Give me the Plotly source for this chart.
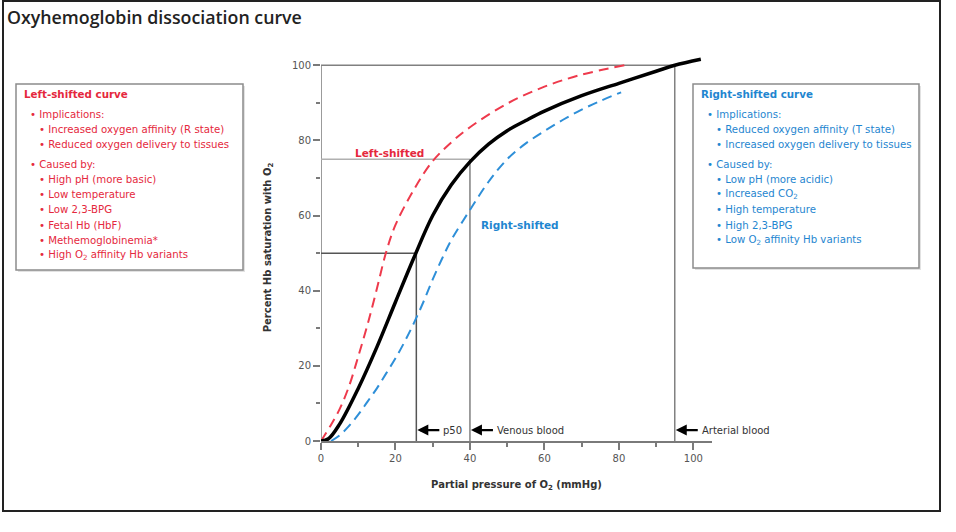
import plotly.graph_objects as go

# --- Kurven ---
NORMAL_X = [0, 2, 5, 10, 15, 20, 25, 30, 35, 40, 45, 50, 55, 60, 70, 80, 90, 95, 102]
NORMAL_Y = [0, 0.6, 4.5, 14, 25, 37, 48.9, 60, 68.2, 74.3, 79, 82.6, 85.3, 87.8,
            91.9, 95.2, 98.4, 100, 101.6]

LEFT_X = [0, 2.5, 5, 7.5, 10, 12.5, 15, 17.5, 20, 25, 30, 35, 40, 50, 60, 70, 81.5]
LEFT_Y = [0, 4, 8.5, 14.5, 22.5, 31, 40.5, 50.3, 57.5, 67, 74.5, 79.5, 83.5, 89.8,
          94.3, 97.5, 100]

RIGHT_X = [2.7, 5, 7.5, 10, 12.5, 15, 17.5, 20, 22.5, 25, 27.5, 30, 32.5, 35, 40,
           45, 50, 55, 60, 65, 70, 75, 80.6]
RIGHT_Y = [0, 1.5, 4, 7, 10.5, 14, 18, 22, 26.5, 31.5, 37, 43, 48.5, 53.5, 61.5,
           69, 75, 79.2, 82.5, 85.5, 88.2, 90.5, 92.8]

# Referenzpunkte
P50_X, P50_Y = 25.6, 50
VENOUS_X, VENOUS_Y = 40, 75
ARTERIAL_X, ARTERIAL_Y = 95, 100

X_TICKS = [0, 20, 40, 60, 80, 100]
Y_TICKS = [0, 20, 40, 60, 80, 100]

LEFT_TITLE = 'Left-shifted curve'
LEFT_IMPLICATIONS = ['Increased oxygen affinity (R state)',
                     'Reduced oxygen delivery to tissues']
LEFT_CAUSES = ['High pH (more basic)', 'Low temperature', 'Low 2,3-BPG',
               'Fetal Hb (HbF)', 'Methemoglobinemia*',
               'High O<sub>2</sub> affinity Hb variants']

RIGHT_TITLE = 'Right-shifted curve'
RIGHT_IMPLICATIONS = ['Reduced oxygen affinity (T state)',
                      'Increased oxygen delivery to tissues']
RIGHT_CAUSES = ['Low pH (more acidic)', 'Increased CO<sub>2</sub>',
                'High temperature', 'High 2,3-BPG',
                'Low O<sub>2</sub> affinity Hb variants']

RED = '#EE3A4C'
RED_TXT = '#E5283D'
BLUE = '#2E8FD8'
BLUE_TXT = '#1F86D0'
REF_GRAY = '#808080'
AXIS_GRAY = '#7a7a7a'
FONT = 'DejaVu Sans'

W, H = 956, 532
M_L, M_R, M_T, M_B = 321, 244, 54, 91
PW, PH = W - M_L - M_R, H - M_T - M_B


def px(x):
    return (x - M_L) / PW


def py(y):
    return (H - M_B - y) / PH


fig = go.Figure()

# Kurven
fig.add_trace(go.Scatter(x=LEFT_X, y=LEFT_Y, mode='lines', line_shape='spline',
                         line=dict(color=RED, width=2, dash='10px,6px')))
fig.add_trace(go.Scatter(x=RIGHT_X, y=RIGHT_Y, mode='lines', line_shape='spline',
                         line=dict(color=BLUE, width=2, dash='10px,6px')))
fig.add_trace(go.Scatter(x=NORMAL_X, y=NORMAL_Y, mode='lines', line_shape='spline',
                         line=dict(color='black', width=3.5)))

shapes = []
annotations = []


# Hilfslinien
def ref_line(x0, y0, x1, y1, color=REF_GRAY, width=1.5):
    shapes.append(dict(type='line', xref='x', yref='y', x0=x0, y0=y0, x1=x1, y1=y1,
                       line=dict(color=color, width=width), layer='below'))


ref_line(0, 0, 0, 100, AXIS_GRAY, 1.5)                       # y-Achse
ref_line(0, ARTERIAL_Y, ARTERIAL_X, ARTERIAL_Y)
ref_line(0, VENOUS_Y, VENOUS_X, VENOUS_Y, '#b0b0b0')
ref_line(0, P50_Y, P50_X, P50_Y, '#555555')
ref_line(P50_X, 0, P50_X, P50_Y, '#555555')
ref_line(VENOUS_X, 0, VENOUS_X, VENOUS_Y)
ref_line(ARTERIAL_X, 0, ARTERIAL_X, ARTERIAL_Y)

# Pfeile mit Beschriftung
for xline, label in [(P50_X, 'p50'), (VENOUS_X, 'Venous blood'), (ARTERIAL_X, 'Arterial blood')]:
    annotations.append(dict(x=xline, y=2.9, xref='x', yref='y', text=label, showarrow=True,
                            arrowhead=2, arrowsize=1, arrowwidth=2.2, arrowcolor='black',
                            ax=23, ay=0, standoff=1, xanchor='left', yanchor='middle',
                            borderpad=3, font=dict(family=FONT, size=10, color='#333333')))

annotations.append(dict(x=18.5, y=76.7, xref='x', yref='y', text='<b>Left-shifted</b>',
                        showarrow=False, font=dict(family=FONT, size=10.5, color=RED_TXT)))
annotations.append(dict(x=53.4, y=57.5, xref='x', yref='y', text='<b>Right-shifted</b>',
                        showarrow=False, font=dict(family=FONT, size=10.5, color=BLUE_TXT)))


def add_box(x0, y0, x1, y1, color, title, implications, causes):
    shapes.append(dict(type='rect', xref='paper', yref='paper',
                       x0=px(x0 + 2), x1=px(x1 + 2), y0=py(y1 + 2), y1=py(y0 + 2),
                       fillcolor='#e2e2e2', line=dict(width=0), layer='below'))
    shapes.append(dict(type='rect', xref='paper', yref='paper',
                       x0=px(x0), x1=px(x1), y0=py(y1), y1=py(y0),
                       fillcolor='white', line=dict(color='#8c8c8c', width=1.5), layer='below'))
    annotations.append(dict(x=px(x0 + 6), y=py(y0 + 10), xref='paper', yref='paper',
                            text=f'<b>{title}</b>', showarrow=False, xanchor='left',
                            yanchor='middle', font=dict(family=FONT, size=10.3, color=color)))
    rows = [('Implications:', 12, 30)]
    rows += [(t, 21, 45.3 + i * 15.3) for i, t in enumerate(implications)]
    rows += [('Caused by:', 12, 80)]
    rows += [(t, 21, 95.3 + i * 15.3) for i, t in enumerate(causes)]
    for text, dx, dy in rows:
        annotations.append(dict(x=px(x0 + dx), y=py(y0 + dy), xref='paper', yref='paper',
                                text='• ' + text, showarrow=False, xanchor='left',
                                yanchor='middle', font=dict(family=FONT, size=10.2, color=color)))


add_box(16, 84, 243, 270, RED_TXT, LEFT_TITLE, LEFT_IMPLICATIONS, LEFT_CAUSES)
add_box(693, 84, 919, 268, BLUE_TXT, RIGHT_TITLE, RIGHT_IMPLICATIONS, RIGHT_CAUSES)

# Rahmen um das ganze Bild
shapes.append(dict(type='rect', xref='paper', yref='paper',
                   x0=px(3), x1=px(940), y0=py(511), y1=py(1),
                   line=dict(color='#222222', width=2), layer='below'))

axis_common = dict(
    showgrid=False, zeroline=False, ticks='outside', ticklen=7, tickwidth=1.5,
    tickcolor=AXIS_GRAY, tickfont=dict(family=FONT, size=10, color='#555555'),
    minor=dict(dtick=10, ticks='outside', ticklen=4, tickwidth=1.5, tickcolor=AXIS_GRAY),
)

fig.update_layout(
    width=W, height=H,
    margin=dict(l=M_L, r=M_R, t=M_T, b=M_B),
    paper_bgcolor='white', plot_bgcolor='white',
    showlegend=False,
    title=dict(text='Oxyhemoglobin dissociation curve', x=7 / W, xanchor='left',
               y=1 - 18 / H, yanchor='middle', xref='container', yref='container',
               font=dict(family='Open Sans', size=17.8, weight=600, color='#222222')),
    xaxis=dict(range=[0, 105], tickvals=X_TICKS, showline=True, linecolor=AXIS_GRAY,
               linewidth=1.5,
               title=dict(text='<b>Partial pressure of O<sub>2</sub> (mmHg)</b>', standoff=18,
                          font=dict(family=FONT, size=10, color='#333333')),
               **axis_common),
    yaxis=dict(range=[0, 103], tickvals=Y_TICKS, showline=False,
               title=dict(text='<b>Percent Hb saturation with O<sub>2</sub></b>', standoff=18,
                          font=dict(family=FONT, size=10, color='#333333')),
               **axis_common),
    shapes=shapes,
    annotations=annotations,
)

# Seitenrand des Browsers entfernen, damit die Pixelpositionen stimmen
fig.write_html('out.html', config={'displayModeBar': False},
               post_script="document.body.style.margin='0';")
